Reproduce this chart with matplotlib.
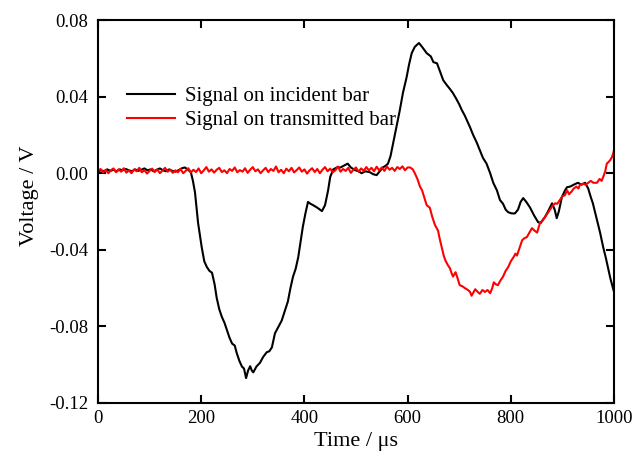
import matplotlib
matplotlib.use('Agg')
import matplotlib.pyplot as plt

plt.rcParams['font.family'] = ['Liberation Serif', 'DejaVu Serif']
plt.rcParams['axes.unicode_minus'] = False

# Signal on incident bar (time in us, voltage in V)
t_inc = [0, 6, 12, 18, 24, 30, 36, 42, 48, 54, 60, 66, 72, 78, 84, 90, 96, 102, 108, 114,
         120, 126, 132, 138, 144, 150, 156, 162, 168, 174, 180, 184, 188, 194, 201, 206, 211,
         216, 221, 226, 230, 235, 240, 245, 250, 255, 260, 265, 269, 274, 279, 283, 287, 291,
         295, 298, 301, 307, 314, 320, 327, 332, 337, 343, 350, 356, 362, 368, 373, 378, 383,
         388, 392, 397, 402, 407, 412, 417, 425, 434, 440, 446, 450, 456, 463, 470, 477, 484,
         490, 498, 505, 511, 518, 527, 533, 540, 546, 552, 558, 562, 567, 572, 578, 585, 591,
         598, 603, 608, 614, 622, 628, 637, 645, 650, 657, 663, 669, 676, 682, 688, 694, 700,
         705, 711, 716, 721, 727, 734, 740, 746, 753, 760, 766, 773, 779, 785, 790, 795, 802,
         808, 814, 819, 824, 830, 837, 845, 853, 858, 863, 866, 872, 880, 885, 889, 893, 899,
         905, 909, 915, 922, 930, 937, 944, 950, 955, 959, 967, 973, 979, 984, 988, 993, 998,
         1000]
v_inc = [0.001, 0.0015, 0.001, 0.002, 0.0012, 0.0018, 0.001, 0.002, 0.0015, 0.0022,
         0.0015, 0.001, 0.002, 0.0012, 0.0018, 0.0025, 0.0015, 0.002, 0.001, 0.0018,
         0.0025, 0.0015, 0.001, 0.002, 0.0012, 0.0008, 0.0015, 0.0025, 0.003, 0.002,
         0.0005, -0.004, -0.010, -0.026, -0.0386, -0.046, -0.049, -0.051, -0.052, -0.058,
         -0.065, -0.071, -0.075, -0.078, -0.082, -0.086, -0.089, -0.090, -0.094, -0.098,
         -0.101, -0.102, -0.107, -0.103, -0.1008, -0.103, -0.104, -0.101, -0.099, -0.096,
         -0.0935, -0.093, -0.091, -0.0836, -0.080, -0.077, -0.072, -0.067, -0.060, -0.054,
         -0.050, -0.044, -0.037, -0.028, -0.021, -0.015, -0.016, -0.0167, -0.018, -0.0198,
         -0.0167, -0.0089, -0.002, 0.002, 0.003, 0.003, 0.004, 0.005, 0.003, 0.0016,
         0.001, 0.0, 0.001, 0.0005, -0.0005, -0.001, 0.001, 0.003, 0.004, 0.005,
         0.009, 0.0157, 0.024, 0.033, 0.042, 0.050, 0.057, 0.0627, 0.066, 0.068,
         0.066, 0.0627, 0.061, 0.058, 0.0574, 0.053, 0.0486, 0.046, 0.044, 0.0418,
         0.039, 0.036, 0.033, 0.030, 0.027, 0.024, 0.020, 0.016, 0.012, 0.008,
         0.005, 0.0, -0.005, -0.0089, -0.014, -0.016, -0.019, -0.0204, -0.021, -0.021,
         -0.019, -0.015, -0.013, -0.015, -0.0178, -0.022, -0.0256, -0.026, -0.024, -0.023,
         -0.020, -0.0157, -0.019, -0.0235, -0.020, -0.0125, -0.009, -0.0073, -0.007, -0.006,
         -0.005, -0.006, -0.005, -0.008, -0.0125, -0.0157, -0.0245, -0.031, -0.0386, -0.044,
         -0.049, -0.055, -0.060, -0.062]

# Signal on transmitted bar
t_tra = [0, 5, 10, 15, 20, 25, 30, 35, 40, 45, 50, 55, 60, 65, 70, 75, 80, 85, 90, 95,
         100, 105, 110, 115, 120, 125, 130, 135, 140, 145, 150, 155, 160, 165, 170, 175, 180,
         185, 190, 195, 200, 205, 210, 215, 220, 225, 230, 235, 240, 245, 250, 255, 260, 265,
         270, 275, 280, 285, 290, 295, 300, 305, 310, 315, 320, 325, 330, 335, 340, 345, 350,
         355, 360, 365, 370, 375, 380, 385, 390, 395, 400, 405, 410, 415, 420, 425, 430, 435,
         440, 445, 450, 455, 460, 465, 470, 475, 480, 485, 490, 495, 500, 505, 510, 515, 520,
         525, 530, 535, 540, 545, 550, 555, 560, 565, 570, 575, 580, 585, 590, 595, 600,
         605, 610, 614, 619, 624, 628, 634, 637, 643, 648, 653, 659, 662, 666, 670, 673, 678,
         682, 685, 688, 693, 697, 701, 706, 711, 717, 721, 724, 728, 731, 736, 740, 745, 750,
         755, 760, 764, 767, 771, 775, 780, 785, 790, 795, 800, 805, 809, 812, 817, 822, 826,
         831, 836, 841, 846, 851, 857, 861, 866, 871, 876, 881, 886, 890, 895, 900, 905, 909,
         913, 918, 922, 927, 931, 934, 940, 945, 950, 955, 960, 967, 972, 976, 979, 983, 986,
         990, 993, 996, 998, 1000]
v_tra = [0.001, 0.0022, 0.0004, 0.0018, 0.0, 0.0015, 0.0025, 0.0005, 0.002, 0.0008,
         0.0026, 0.0003, 0.0015, 0.0, 0.002, 0.001, 0.0028, 0.0005, 0.0016, -0.0002,
         0.0012, 0.0024, 0.0006, 0.002, 0.0, 0.0014, 0.0028, 0.0008, 0.0018, 0.0002,
         0.0015, 0.0005, 0.0022, 0.0, 0.0012, 0.0026, 0.0004, 0.0018, 0.0006, 0.0025,
         0.0, 0.0015, 0.0032, 0.0008, 0.002, 0.0003, 0.0018, 0.0028, 0.0006, 0.0015,
         0.0, 0.0022, 0.0012, 0.003, 0.0005, 0.0016, 0.0008, 0.0026, 0.0002, 0.0018,
         0.0032, 0.001, 0.002, 0.0, 0.0015, 0.0028, 0.0006, 0.0022, 0.0012, 0.0035,
         0.0005, 0.0018, 0.0, 0.0024, 0.001, 0.0028, 0.0004, 0.0016, 0.003, 0.0008,
         0.002, -0.0002, 0.0015, 0.0026, 0.0006, 0.0022, 0.0, 0.0018, 0.0032, 0.001,
         0.0024, 0.0005, 0.0015, 0.0035, 0.0008, 0.0022, 0.0012, 0.0028, 0.0002, 0.0018,
         0.003, 0.0008, 0.0025, 0.0012, 0.0032, 0.0015, 0.0028, 0.001, 0.0034, 0.0015,
         0.003, 0.0012, 0.0035, 0.0018, 0.0028, 0.0012, 0.0032, 0.0022, 0.0036, 0.0015,
         0.003,
         0.003, 0.002, 0.0, -0.003, -0.007, -0.0089, -0.014, -0.0167, -0.018, -0.023,
         -0.027, -0.030, -0.034, -0.0386, -0.043, -0.0454, -0.048, -0.0496, -0.052, -0.054,
         -0.0517, -0.055, -0.0585, -0.059, -0.060, -0.061, -0.062, -0.064, -0.062, -0.0606,
         -0.062, -0.063, -0.061, -0.062, -0.061, -0.0627, -0.060, -0.057, -0.058, -0.0585,
         -0.056, -0.054, -0.051, -0.049, -0.046, -0.044, -0.042, -0.043, -0.039, -0.035,
         -0.034, -0.0334, -0.031, -0.0287, -0.030, -0.031, -0.0256, -0.025, -0.023, -0.021,
         -0.019, -0.017, -0.0157, -0.016, -0.014, -0.012, -0.0115, -0.0089, -0.011, -0.0095,
         -0.008, -0.007, -0.008, -0.006, -0.0055, -0.006, -0.005, -0.004, -0.005, -0.005,
         -0.003, -0.004, -0.002, 0.001, 0.005, 0.006, 0.007, 0.0084, 0.010, 0.012]

xticks = [0, 200, 400, 600, 800, 1000]
yticks = [-0.12, -0.08, -0.04, 0.00, 0.04, 0.08]

fig = plt.figure(figsize=(6.42, 4.57), dpi=100)
ax = fig.add_axes([0.1526, 0.1182, 0.8038, 0.838])

ax.plot(t_inc, v_inc, color='black', lw=1.5, label='Signal on incident bar')
ax.plot(t_tra, v_tra, color='#ff0000', lw=1.5, label='Signal on transmitted bar')

ax.set_xlim(0, 1000)
ax.set_ylim(-0.12, 0.08)
ax.set_xticks(xticks)
ax.set_yticks(yticks)
ax.set_yticklabels(['%.2f' % v for v in yticks])
ax.tick_params(direction='in', length=6, width=1.5, top=True, right=True,
               labelsize=13.5)
ax.tick_params(axis='y', pad=7)
ax.tick_params(axis='x', pad=5)
for s in ax.spines.values():
    s.set_linewidth(1.5)

ax.set_xlabel('Time / μs', fontsize=16, labelpad=4)
ax.set_ylabel('Voltage / V', fontsize=16, labelpad=7, y=0.54)

ax.legend(loc='upper left', bbox_to_anchor=(0.02, 0.875), frameon=False,
          fontsize=15, handlelength=2.3, handletextpad=0.5, labelspacing=0.2)

fig.savefig('out.png', dpi=100)
